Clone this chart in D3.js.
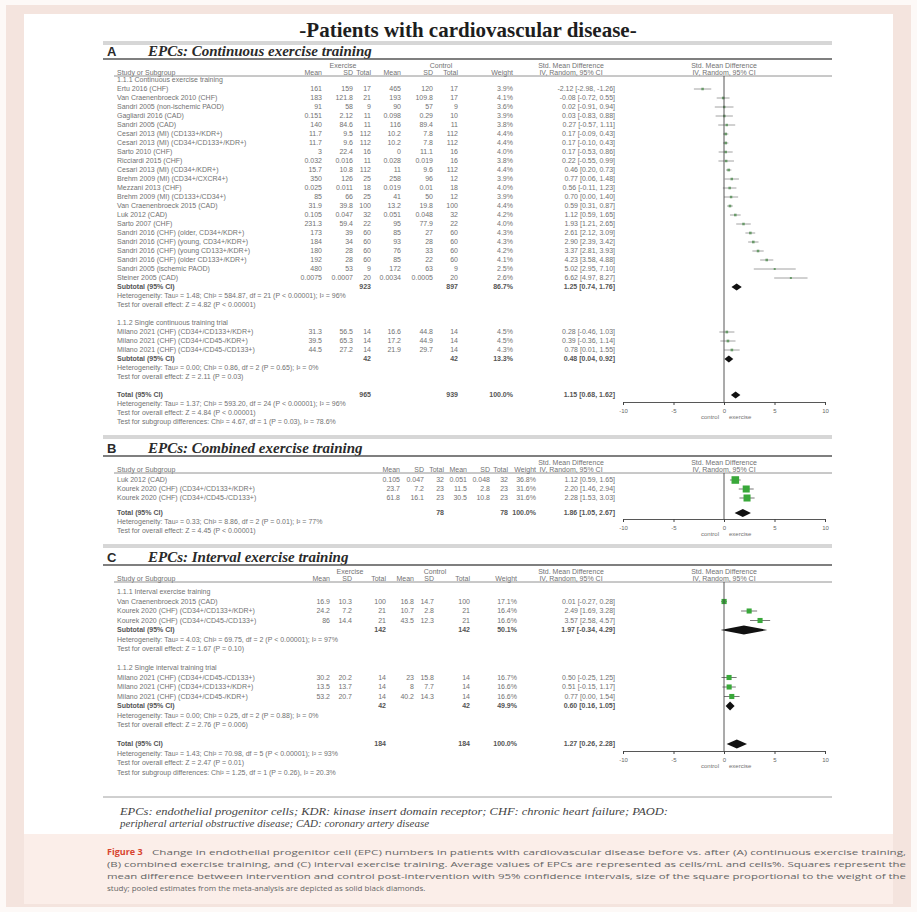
<!DOCTYPE html>
<html><head><meta charset="utf-8">
<script src="https://cdn.jsdelivr.net/npm/d3@7"></script>
<style>body{margin:0;background:#fdf9f7;}svg{display:block}</style>
</head><body><svg id="fig" width="917" height="912"></svg>
<script>
// ---------- Panel A: continuous exercise training ----------
const contSubgroups = ["1.1.1 Continuous exercise training", "1.1.2 Single continuous training trial"];
const contSizes = [22, 3];
const contNames = [
  "Ertu 2016 (CHF)", "Van Craenenbroeck 2010 (CHF)", "Sandri 2005 (non-ischemic PAOD)", "Gagliardi 2016 (CAD)",
  "Sandri 2005 (CAD)", "Cesari 2013 (MI) (CD133+/KDR+)", "Cesari 2013 (MI) (CD34+/CD133+/KDR+)", "Sarto 2010 (CHF)",
  "Ricciardi 2015 (CHF)", "Cesari 2013 (MI) (CD34+/KDR+)", "Brehm 2009 (MI) (CD34+/CXCR4+)", "Mezzani 2013 (CHF)",
  "Brehm 2009 (MI) (CD133+/CD34+)", "Van Craenenbroeck 2015 (CAD)", "Luk 2012 (CAD)", "Sarto 2007 (CHF)",
  "Sandri 2016 (CHF) (older, CD34+/KDR+)", "Sandri 2016 (CHF) (young, CD34+/KDR+)", "Sandri 2016 (CHF) (young CD133+/KDR+)",
  "Sandri 2016 (CHF) (older CD133+/KDR+)", "Sandri 2005 (ischemic PAOD)", "Steiner 2005 (CAD)",
  "Milano 2021 (CHF) (CD34+/CD133+/KDR+)", "Milano 2021 (CHF) (CD34+/CD45-/KDR+)", "Milano 2021 (CHF) (CD34+/CD45-/CD133+)"];
const contExMean = [161, 183, 91, 0.151, 140, 11.7, 11.7, 3, 0.032, 15.7, 350, 0.025, 85, 31.9, 0.105, 231.3, 173, 184, 180, 192, 480, 0.0075, 31.3, 39.5, 44.5];
const contExSD   = [159, 121.8, 58, 2.12, 84.6, 9.5, 9.6, 22.4, 0.016, 10.8, 126, 0.011, 66, 39.8, 0.047, 59.4, 39, 34, 28, 28, 53, 0.0007, 56.5, 65.3, 27.2];
const contExN    = [17, 21, 9, 11, 11, 112, 112, 16, 11, 112, 25, 18, 25, 100, 32, 22, 60, 60, 60, 60, 9, 20, 14, 14, 14];
const contCtMean = [465, 193, 90, 0.098, 116, 10.2, 10.2, 0, 0.028, 11, 258, 0.019, 41, 13.2, 0.051, 95, 85, 93, 76, 85, 172, 0.0034, 16.6, 17.2, 21.9];
const contCtSD   = [120, 109.8, 57, 0.29, 89.4, 7.8, 7.8, 11.1, 0.019, 9.6, 96, 0.01, 50, 19.8, 0.048, 77.9, 27, 28, 33, 22, 63, 0.0005, 44.8, 44.9, 29.7];
const contCtN    = [17, 17, 9, 10, 11, 112, 112, 16, 16, 112, 12, 18, 12, 100, 32, 22, 60, 60, 60, 60, 9, 20, 14, 14, 14];
const contWeight = [3.9, 4.1, 3.6, 3.9, 3.8, 4.4, 4.4, 4.0, 3.8, 4.4, 3.9, 4.0, 3.9, 4.4, 4.2, 4.0, 4.3, 4.3, 4.2, 4.1, 2.5, 2.6, 4.5, 4.5, 4.3];
const contSMD    = [-2.12, -0.08, 0.02, 0.03, 0.27, 0.17, 0.17, 0.17, 0.22, 0.46, 0.77, 0.56, 0.70, 0.59, 1.12, 1.93, 2.61, 2.90, 3.37, 4.23, 5.02, 6.62, 0.28, 0.39, 0.78];
const contLo     = [-2.98, -0.72, -0.91, -0.83, -0.57, -0.09, -0.10, -0.53, -0.55, 0.20, 0.06, -0.11, 0.00, 0.31, 0.59, 1.21, 2.12, 2.39, 2.81, 3.58, 2.95, 4.97, -0.46, -0.36, 0.01];
const contHi     = [-1.26, 0.55, 0.94, 0.88, 1.11, 0.43, 0.43, 0.86, 0.99, 0.73, 1.48, 1.23, 1.40, 0.87, 1.65, 2.65, 3.09, 3.42, 3.93, 4.88, 7.10, 8.27, 1.03, 1.14, 1.55];
const contSubExN = [923, 42], contSubCtN = [897, 42], contSubWeight = [86.7, 13.3];
const contSubSMD = [1.25, 0.48], contSubLo = [0.74, 0.04], contSubHi = [1.76, 0.92];
const contSubText = [
  ["Heterogeneity: Tau² = 1.48; Chi² = 584.87, df = 21 (P < 0.00001); I² = 96%", "Test for overall effect: Z = 4.82 (P < 0.00001)"],
  ["Heterogeneity: Tau² = 0.00; Chi² = 0.86, df = 2 (P = 0.65); I² = 0%", "Test for overall effect: Z = 2.11 (P = 0.03)"]];
const contTotal = [965, 939, 100.0, 1.15, 0.68, 1.62];   // exN, ctN, weight, smd, lo, hi
const contTotalText = [
  "Heterogeneity: Tau² = 1.37; Chi² = 593.20, df = 24 (P < 0.00001); I² = 96%",
  "Test for overall effect: Z = 4.84 (P < 0.00001)",
  "Test for subgroup differences: Chi² = 4.67, df = 1 (P = 0.03), I² = 78.6%"];

// ---------- Panel B: combined exercise training ----------
const combNames  = ["Luk 2012 (CAD)", "Kourek 2020 (CHF) (CD34+/CD133+/KDR+)", "Kourek 2020 (CHF) (CD34+/CD45-/CD133+)"];
const combExMean = [0.105, 23.7, 61.8];
const combExSD   = [0.047, 7.2, 16.1];
const combExN    = [32, 23, 23];
const combCtMean = [0.051, 11.5, 30.5];
const combCtSD   = [0.048, 2.8, 10.8];
const combCtN    = [32, 23, 23];
const combWeight = [36.8, 31.6, 31.6];
const combSMD    = [1.12, 2.20, 2.28];
const combLo     = [0.59, 1.46, 1.53];
const combHi     = [1.65, 2.94, 3.03];
const combTotal  = [78, 78, 100.0, 1.86, 1.05, 2.67];
const combTotalText = [
  "Heterogeneity: Tau² = 0.33; Chi² = 8.86, df = 2 (P = 0.01); I² = 77%",
  "Test for overall effect: Z = 4.45 (P < 0.00001)"];

// ---------- Panel C: interval exercise training ----------
const intSubgroups = ["1.1.1 Interval exercise training", "1.1.2 Single interval training trial"];
const intSizes = [3, 3];
const intNames = [
  "Van Craenenbroeck 2015 (CAD)", "Kourek 2020 (CHF) (CD34+/CD133+/KDR+)", "Kourek 2020 (CHF) (CD34+/CD45-/CD133+)",
  "Milano 2021 (CHF) (CD34+/CD45-/CD133+)", "Milano 2021 (CHF) (CD34+/CD133+/KDR+)", "Milano 2021 (CHF) (CD34+/CD45-/KDR+)"];
const intExMean = [16.9, 24.2, 86, 30.2, 13.5, 53.2];
const intExSD   = [10.3, 7.2, 14.4, 20.2, 13.7, 20.7];
const intExN    = [100, 21, 21, 14, 14, 14];
const intCtMean = [16.8, 10.7, 43.5, 23.0, 8.0, 40.2];
const intCtSD   = [14.7, 2.8, 12.3, 15.8, 7.7, 14.3];
const intCtN    = [100, 21, 21, 14, 14, 14];
const intWeight = [17.1, 16.4, 16.6, 16.7, 16.6, 16.6];
const intSMD    = [0.01, 2.49, 3.57, 0.50, 0.51, 0.77];
const intLo     = [-0.27, 1.69, 2.58, -0.25, -0.15, 0.00];
const intHi     = [0.28, 3.28, 4.57, 1.25, 1.17, 1.54];
const intSubExN = [142, 42], intSubCtN = [142, 42], intSubWeight = [50.1, 49.9];
const intSubSMD = [1.97, 0.60], intSubLo = [-0.34, 0.16], intSubHi = [4.29, 1.05];
const intSubText = [
  ["Heterogeneity: Tau² = 4.03; Chi² = 69.75, df = 2 (P < 0.00001); I² = 97%", "Test for overall effect: Z = 1.67 (P = 0.10)"],
  ["Heterogeneity: Tau² = 0.00; Chi² = 0.25, df = 2 (P = 0.88); I² = 0%", "Test for overall effect: Z = 2.76 (P = 0.006)"]];
const intTotal = [184, 184, 100.0, 1.27, 0.26, 2.28];
const intTotalText = [
  "Heterogeneity: Tau² = 1.43; Chi² = 70.98, df = 5 (P < 0.00001); I² = 93%",
  "Test for overall effect: Z = 2.47 (P = 0.01)",
  "Test for subgroup differences: Chi² = 1.25, df = 1 (P = 0.26), I² = 20.3%"];

const axisTicks = [-10, -5, 0, 5, 10];
const axisSides = ["control", "exercise"];

const figTitle = "-Patients with cardiovascular disease-";
const footnote = ["EPCs: endothelial progenitor cells; KDR: kinase insert domain receptor; CHF: chronic heart failure; PAOD:",
                  "peripheral arterial obstructive disease; CAD: coronary artery disease"];
const captionLabel = "Figure 3";
const caption = [
  "Change in endothelial progenitor cell (EPC) numbers in patients with cardiovascular disease before vs. after (A) continuous exercise training,",
  "(B) combined exercise training, and (C) interval exercise training. Average values of EPCs are represented as cells/mL and cells%. Squares represent the",
  "mean difference between intervention and control post-intervention with 95% confidence intervals, size of the square proportional to the weight of the",
  "study; pooled estimates from the meta-analysis are depicted as solid black diamonds."];

// ---------- drawing ----------
const sans = "'Liberation Sans', Arial, sans-serif";
const serif = "'Liberation Serif', 'Times New Roman', serif";
const ink = "#727272", dark = "#2a2a2a", green = "#39a83a";
const svg = d3.select("#fig");
const RULE_L = 103, RULE_R = 832;

// page frame and caption box
svg.append("rect").attr("x", 0).attr("y", 0).attr("width", 917).attr("height", 912).attr("fill", "#fdf9f7");
svg.append("rect").attr("x", 6).attr("y", 5).attr("width", 905).attr("height", 902).attr("fill", "#f4e4de");
svg.append("rect").attr("x", 24).attr("y", 14).attr("width", 869).attr("height", 820).attr("fill", "#ffffff");
svg.append("rect").attr("x", 24).attr("y", 834).attr("width", 869).attr("height", 70).attr("fill", "#fbeee9");

function txt(g, x, y, s, o = {}) {
  return g.append("text").attr("x", x).attr("y", y).attr("dy", "0.35em")
    .attr("text-anchor", o.anchor || "start").attr("font-size", o.size || 7)
    .attr("font-family", o.family || sans).attr("font-weight", o.weight || null)
    .attr("font-style", o.style || null).attr("fill", o.fill || ink).text(s);
}
function rule(y, w, c) {
  svg.append("line").attr("x1", RULE_L).attr("x2", RULE_R).attr("y1", y).attr("y2", y)
    .attr("stroke", c || "#666").attr("stroke-width", w || 1);
}
const f2 = v => v.toFixed(2);
const ci = (m, l, h) => `${f2(m)} [${f2(l)}, ${f2(h)}]`;
const pct = v => v.toFixed(1) + "%";

function drawPanel(P) {
  const g = svg.append("g");
  const c = P.cols;
  const x = d3.scaleLinear().domain([-10, 10]).range([c.plotL, c.plotR]);
  txt(g, 107, P.headY, P.letter, {size: 13, weight: "bold", fill: dark});
  txt(g, 148, P.headY, P.title, {size: 15, weight: "bold", style: "italic", family: serif, fill: dark});
  rule(P.headY + 8, 1.6, "#555");
  const h1 = P.headY + 15, h2 = P.headY + 22, hl = P.headY + 25;
  if (P.groupHead) {
    txt(g, c.exHead, h1, "Exercise", {anchor: "middle"});
    txt(g, c.ctHead, h1, "Control", {anchor: "middle"});
  }
  txt(g, c.smdHead, h1, "Std. Mean Difference", {anchor: "middle"});
  txt(g, x(0), h1, "Std. Mean Difference", {anchor: "middle"});
  txt(g, c.name, h2, "Study or Subgroup");
  [["Mean", c.exMean], ["SD", c.exSD], ["Total", c.exN], ["Mean", c.ctMean], ["SD", c.ctSD], ["Total", c.ctN], ["Weight", c.weight]]
    .forEach(([s, xx]) => txt(g, xx, h2, s, {anchor: "end"}));
  txt(g, c.smdHead, h2, "IV, Random, 95% CI", {anchor: "middle"});
  txt(g, x(0), h2, "IV, Random, 95% CI", {anchor: "middle"});
  g.append("line").attr("x1", c.name - 3).attr("x2", RULE_R).attr("y1", hl).attr("y2", hl)
    .attr("stroke", "#777").attr("stroke-width", 0.8);

  const D = P.data;
  const sq = w => P.sqK * Math.sqrt(w);
  function studyRow(i, y) {
    txt(g, c.name, y, D.names[i]);
    txt(g, c.exMean, y, String(D.exMean[i]), {anchor: "end"});
    txt(g, c.exSD, y, String(D.exSD[i]), {anchor: "end"});
    txt(g, c.exN, y, String(D.exN[i]), {anchor: "end"});
    txt(g, c.ctMean, y, String(D.ctMean[i]), {anchor: "end"});
    txt(g, c.ctSD, y, String(D.ctSD[i]), {anchor: "end"});
    txt(g, c.ctN, y, String(D.ctN[i]), {anchor: "end"});
    txt(g, c.weight, y, pct(D.weight[i]), {anchor: "end"});
    txt(g, c.ci, y, ci(D.smd[i], D.lo[i], D.hi[i]), {anchor: "end"});
    g.append("line").attr("x1", x(D.lo[i])).attr("x2", x(D.hi[i])).attr("y1", y).attr("y2", y)
      .attr("stroke", P.ciColor).attr("stroke-width", 0.8);
    const s = sq(D.weight[i]);
    g.append("rect").attr("x", x(D.smd[i]) - s / 2).attr("y", y - s / 2).attr("width", s).attr("height", s)
      .attr("fill", P.sqColor);
  }
  function pooledRow(label, y, exN, ctN, w, m, l, h) {
    txt(g, c.name, y, label, {weight: "bold", fill: "#555"});
    txt(g, c.exN, y, String(exN), {anchor: "end", weight: "bold", fill: "#555"});
    txt(g, c.ctN, y, String(ctN), {anchor: "end", weight: "bold", fill: "#555"});
    txt(g, c.weight, y, pct(w), {anchor: "end", weight: "bold", fill: "#555"});
    txt(g, c.ci, y, ci(m, l, h), {anchor: "end", weight: "bold", fill: "#555"});
    const dh = P.diaH;
    g.append("path")
      .attr("d", `M${x(l)},${y}L${x(m)},${y - dh}L${x(h)},${y}L${x(m)},${y + dh}Z`)
      .attr("fill", "#111");
  }

  let y = P.firstY, si = 0;
  const R = P.rowH;
  const groups = P.subgroups || [null];
  groups.forEach((lab, gi) => {
    if (lab) { txt(g, c.name, y, lab); y += R; }
    for (let k = 0; k < P.sizes[gi]; k++, si++) { studyRow(si, y); y += R; }
    if (lab) {
      const S = P.sub;
      pooledRow("Subtotal (95% CI)", y, S.exN[gi], S.ctN[gi], S.weight[gi], S.smd[gi], S.lo[gi], S.hi[gi]);
      y += R;
      S.text[gi].forEach(t => { txt(g, c.name, y, t); y += R; });
    }
    y += P.gap;
  });
  const T = P.total;
  pooledRow("Total (95% CI)", y, T[0], T[1], T[2], T[3], T[4], T[5]);
  const totalY = y;
  y += R;
  P.totalText.forEach(t => { txt(g, c.name, y, t); y += R; });

  // axis and line of no effect
  const axisY = totalY + P.axisGap;
  g.append("line").attr("x1", x(0)).attr("x2", x(0)).attr("y1", hl).attr("y2", axisY)
    .attr("stroke", "#444").attr("stroke-width", 0.9);
  const ax = g.append("g").attr("transform", `translate(0,${axisY})`)
    .call(d3.axisBottom(x).tickValues(axisTicks).tickSize(3).tickFormat(d3.format("d")));
  ax.select(".domain").attr("stroke", "#444").attr("stroke-width", 0.9);
  ax.selectAll(".tick line").attr("stroke", "#444");
  ax.selectAll(".tick text").attr("font-size", 6).attr("font-family", sans).attr("fill", "#666")
    .attr("dy", "0.9em").text(d => d === -10 ? "-10" : d === -5 ? "-5" : d);
  txt(g, x(0) - 5, axisY + 15, axisSides[0], {anchor: "end", size: 6});
  txt(g, x(0) + 5, axisY + 15, axisSides[1], {size: 6});
}

// title
txt(svg, 468, 30, figTitle, {anchor: "middle", size: 21, weight: "bold", family: serif, fill: "#1e1e1e"});
rule(42, 0.8, "#999"); rule(44, 0.8, "#999");

const plotCols = {plotL: 623, plotR: 825, smdHead: 571, ci: 615};
drawPanel({
  letter: "A", title: "EPCs: Continuous exercise training", headY: 51, groupHead: true,
  cols: Object.assign({name: 117, exMean: 322, exSD: 353, exN: 371, ctMean: 401, ctSD: 433, ctN: 458, weight: 513, exHead: 343, ctHead: 441}, plotCols),
  firstY: 80, rowH: 9, gap: 9, axisGap: 7, sqK: 1.25, diaH: 3.5, ciColor: "#8a8a8a", sqColor: "#6a9a6a",
  subgroups: contSubgroups, sizes: contSizes,
  data: {names: contNames, exMean: contExMean, exSD: contExSD, exN: contExN, ctMean: contCtMean, ctSD: contCtSD, ctN: contCtN,
         weight: contWeight, smd: contSMD, lo: contLo, hi: contHi},
  sub: {exN: contSubExN, ctN: contSubCtN, weight: contSubWeight, smd: contSubSMD, lo: contSubLo, hi: contSubHi, text: contSubText},
  total: contTotal, totalText: contTotalText
});
rule(436, 0.8, "#999"); rule(438, 0.8, "#999");

drawPanel({
  letter: "B", title: "EPCs: Combined exercise training", headY: 448, groupHead: false,
  cols: Object.assign({name: 117, exMean: 400, exSD: 424, exN: 444, ctMean: 467, ctSD: 490, ctN: 508, weight: 536}, plotCols),
  firstY: 480, rowH: 9, gap: 6, axisGap: 6, sqK: 1.25, diaH: 4, ciColor: "#555", sqColor: green,
  subgroups: null, sizes: [3],
  data: {names: combNames, exMean: combExMean, exSD: combExSD, exN: combExN, ctMean: combCtMean, ctSD: combCtSD, ctN: combCtN,
         weight: combWeight, smd: combSMD, lo: combLo, hi: combHi},
  total: combTotal, totalText: combTotalText
});
rule(545, 0.8, "#999"); rule(547, 0.8, "#999");

drawPanel({
  letter: "C", title: "EPCs: Interval exercise training", headY: 557, groupHead: true,
  cols: Object.assign({name: 117, exMean: 330, exSD: 352, exN: 386, ctMean: 414, ctSD: 434, ctN: 470, weight: 517, exHead: 350, ctHead: 435}, plotCols),
  firstY: 592, rowH: 9.5, gap: 9.5, axisGap: 7, sqK: 1.25, diaH: 4.5, ciColor: "#555", sqColor: green,
  subgroups: intSubgroups, sizes: intSizes,
  data: {names: intNames, exMean: intExMean, exSD: intExSD, exN: intExN, ctMean: intCtMean, ctSD: intCtSD, ctN: intCtN,
         weight: intWeight, smd: intSMD, lo: intLo, hi: intHi},
  sub: {exN: intSubExN, ctN: intSubCtN, weight: intSubWeight, smd: intSubSMD, lo: intSubLo, hi: intSubHi, text: intSubText},
  total: intTotal, totalText: intTotalText
});

// footnote
rule(797, 0.8, "#888");
txt(svg, 120, 811, footnote[0], {size: 11, style: "italic", family: serif, fill: "#444"}).attr("textLength", 548).attr("lengthAdjust", "spacingAndGlyphs");
txt(svg, 120, 823, footnote[1], {size: 11, style: "italic", family: serif, fill: "#444"});

// caption
const capFont = "'Open Sans', 'Noto Sans', sans-serif";
txt(svg, 107, 852, captionLabel, {size: 9, weight: "bold", family: capFont, fill: "#d8452f"});
txt(svg, 152, 852, caption[0], {size: 8, family: capFont, fill: "#666"}).attr("textLength", 754).attr("lengthAdjust", "spacingAndGlyphs");
txt(svg, 107, 864, caption[1], {size: 8, family: capFont, fill: "#666"}).attr("textLength", 799).attr("lengthAdjust", "spacingAndGlyphs");
txt(svg, 107, 876, caption[2], {size: 8, family: capFont, fill: "#666"}).attr("textLength", 799).attr("lengthAdjust", "spacingAndGlyphs");
txt(svg, 107, 888, caption[3], {size: 8, family: capFont, fill: "#666"});
</script></body></html>
